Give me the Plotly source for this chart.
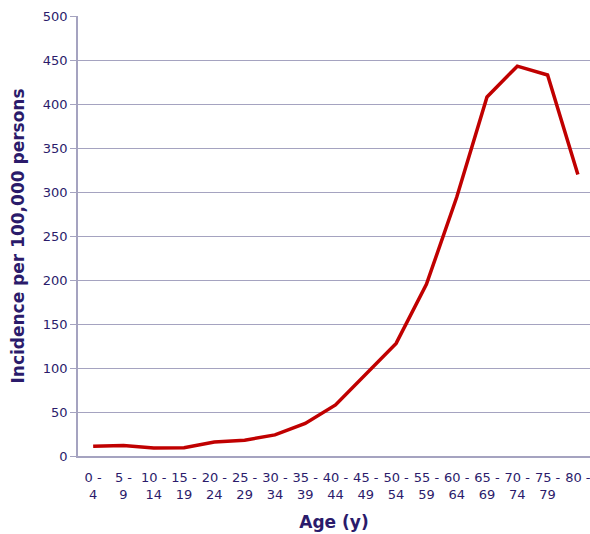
import plotly.graph_objects as go

age_groups = ["0 -<br>4", "5 -<br>9", "10 -<br>14", "15 -<br>19", "20 -<br>24", "25 -<br>29",
              "30 -<br>34", "35 -<br>39", "40 -<br>44", "45 -<br>49", "50 -<br>54", "55 -<br>59",
              "60 -<br>64", "65 -<br>69", "70 -<br>74", "75 -<br>79", "80 -<br> "]
incidence = [11, 12, 9, 9.5, 16, 18, 24, 37, 58, 93, 128, 195, 294, 408, 443, 433, 320]
y_ticks = [0, 50, 100, 150, 200, 250, 300, 350, 400, 450, 500]

text_color = "#2B1B6B"
grid_color = "#A5A3C0"
font_fam = "Verdana, DejaVu Sans, sans-serif"

fig = go.Figure(go.Scatter(
    x=age_groups, y=incidence, mode="lines",
    line=dict(color="#C00000", width=3.5),
    hoverinfo="skip",
))

fig.update_layout(
    width=590, height=534,
    margin=dict(l=78, r=0, t=16, b=78),
    paper_bgcolor="white", plot_bgcolor="white",
    showlegend=False,
    font=dict(family=font_fam, color=text_color, size=13),
)
fig.update_xaxes(
    type="category",
    automargin=False,
    showgrid=False,
    showline=True, linecolor=grid_color, linewidth=1.5,
    ticks="outside", ticklen=9, tickcolor="rgba(0,0,0,0)",
    tickfont=dict(size=13, color=text_color, family=font_fam),
    tickangle=0,
    title=dict(text="<b>Age (y)</b>", font=dict(size=17, color=text_color, family=font_fam), standoff=15),
    range=[-0.5, 16.4],
)
fig.update_yaxes(
    automargin=False,
    range=[0, 500], tickvals=y_ticks,
    showgrid=True, gridcolor=grid_color, gridwidth=1.2,
    showline=True, linecolor=grid_color, linewidth=1.5,
    ticks="outside", ticklen=6, tickcolor=grid_color,
    zeroline=False,
    tickfont=dict(size=13, color=text_color, family=font_fam),
    title=dict(text="<b>Incidence per 100,000 persons</b>", font=dict(size=17, color=text_color, family=font_fam), standoff=14),
)

fig.write_html("out.html", config={"displayModeBar": False},
               post_script="document.body.style.margin='0';document.body.style.overflow='hidden';")
